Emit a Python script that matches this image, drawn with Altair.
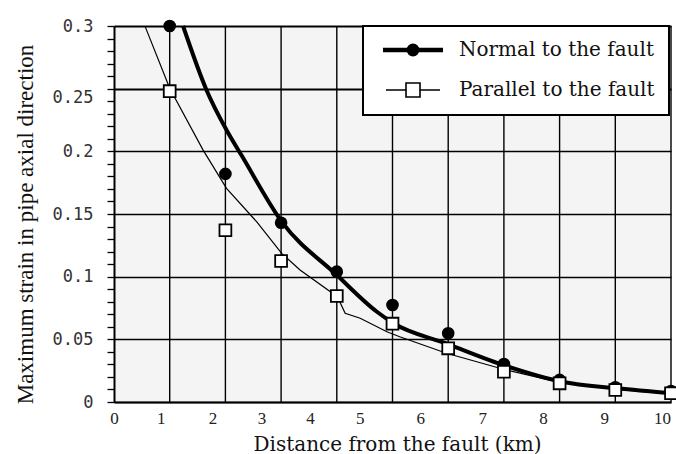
import json
import altair as alt
import pandas as pd

# ---- data -------------------------------------------------------------
series_names = ["Normal to the fault", "Parallel to the fault"]

# measured points (x given in grid positions along the distance axis)
pt_x = [1, 2, 3, 4, 5, 6, 7, 8, 9, 10]
normal_pts = [0.300, 0.182, 0.143, 0.104, 0.0774, 0.0548, 0.0303, 0.0176, 0.0117, 0.0088]
parallel_pts = [0.248, 0.137, 0.1125, 0.0846, 0.0625, 0.0428, 0.0242, 0.0149, 0.0096, 0.0070]

# fitted trend curves
normal_fit_x = [1.24, 1.66, 2.02, 2.30, 3.01, 4.00, 4.72, 5.01, 5.97, 7.04, 8.04, 9.04, 10.0]
normal_fit_y = [0.300, 0.249, 0.217, 0.196, 0.1439, 0.1013, 0.0720, 0.0630, 0.0466, 0.0287, 0.0162, 0.0109, 0.0069]
parallel_fit_x = [0.56, 1.00, 1.60, 2.02, 2.56, 3.01, 3.34, 4.01, 4.15, 4.42, 4.90, 5.13, 5.97, 7.04, 8.04, 9.03, 10.0]
parallel_fit_y = [0.2995, 0.2503, 0.2010, 0.1705, 0.1439, 0.1186, 0.1053, 0.0840, 0.0708, 0.0668, 0.0561, 0.0521, 0.0389, 0.0255, 0.0152, 0.0100, 0.0064]

# axis labelling
x_labels = ["0", "1", "2", "3", "4", "5", "6", "7", "8", "9", "10"]
x_label_pos = [0.0, 0.84, 1.77, 2.65, 3.52, 4.41, 5.50, 6.61, 7.70, 8.80, 9.84]
x_grid = [1, 2, 3, 4, 5, 6, 7, 8, 9, 10]
y_ticks = [0.0, 0.01, 0.02, 0.03, 0.04, 0.05, 0.06, 0.07, 0.08, 0.09, 0.1,
           0.11, 0.12, 0.13, 0.14, 0.15, 0.16, 0.17, 0.18, 0.19, 0.2,
           0.21, 0.22, 0.23, 0.24, 0.25, 0.26, 0.27, 0.28, 0.29, 0.3]

# ---- tables -----------------------------------------------------------
pts_df = pd.DataFrame({
    "x": pt_x + pt_x,
    "y": normal_pts + parallel_pts,
    "series": [series_names[0]] * len(pt_x) + [series_names[1]] * len(pt_x),
})
normal_pts_df = pts_df[pts_df.series == series_names[0]]
parallel_pts_df = pts_df[pts_df.series == series_names[1]]
normal_fit_df = pd.DataFrame({"x": normal_fit_x, "y": normal_fit_y})
parallel_fit_df = pd.DataFrame({"x": parallel_fit_x, "y": parallel_fit_y})
grid_df = pd.DataFrame({"x": x_grid})

# ---- scales & axes ----------------------------------------------------
x_scale = alt.Scale(domain=[0, 10], nice=False, zero=False)
y_scale = alt.Scale(domain=[0, 0.3], nice=False)

major = "abs(datum.value * 20 - round(datum.value * 20)) < 0.001"

x_axis = alt.Axis(
    values=x_label_pos,
    labelExpr=f"{json.dumps(x_labels)}[indexof({json.dumps(x_label_pos)}, datum.value)]",
    ticks=False, tickSize=0, grid=False,
    domainColor="black", domainWidth=2,
    labelFont="Liberation Serif", labelFontSize=17, labelColor="#222",
    labelPadding=8, labelFlush=False, labelOverlap=False,
    title="Distance from the fault (km)",
    titleFont="DejaVu Serif", titleFontSize=20, titleFontWeight="normal",
    titleColor="#111", titleX=283, titleY=48, titleBaseline="alphabetic",
)
y_axis = alt.Axis(
    values=y_ticks, format=".2~f",
    labelExpr=f"{major} ? datum.label : ''",
    tickSize=7, tickColor="black", tickWidth=1.3,
    domainColor="black", domainWidth=2,
    grid=True, gridColor="black",
    gridOpacity={"condition": {"test": major, "value": 1}, "value": 0},
    gridWidth={"condition": {"test": "datum.value > 0.245", "value": 2.2}, "value": 1.3},
    labelOffset={"condition": {"test": "abs(datum.value - 0.25) < 0.001", "value": 9}, "value": 0},
    labelFont="DejaVu Sans Mono", labelFontSize=17, labelColor="#333",
    labelPadding=14, labelFlush=False, labelOverlap=False,
    title="Maximum strain in pipe axial direction",
    titleFont="Liberation Serif", titleFontSize=23, titleFontWeight="normal",
    titleColor="#111", titleX=-82, titleY=198, titleBaseline="alphabetic",
    titleAngle=270,
)

X = alt.X("x:Q", scale=x_scale, axis=x_axis)
Y = alt.Y("y:Q", scale=y_scale, axis=y_axis)

# ---- layers -----------------------------------------------------------
vgrid = alt.Chart(grid_df).mark_rule(color="black", strokeWidth=1.4).encode(x=X)

normal_fit = alt.Chart(normal_fit_df).mark_line(
    color="black", strokeWidth=4, interpolate="monotone"
).encode(x=X, y=Y)

parallel_fit = alt.Chart(parallel_fit_df).mark_line(
    color="black", strokeWidth=1.2
).encode(x=X, y=Y)

normal_points = alt.Chart(normal_pts_df).mark_point(
    shape="circle", filled=True, color="black", size=160, opacity=1
).encode(x=X, y=Y)

parallel_points = alt.Chart(parallel_pts_df).mark_point(
    shape="square", fill="white", stroke="black", strokeWidth=1.8, size=140, opacity=1
).encode(x=X, y=Y)

# legend symbols: line with a marker on it
normal_symbol = "M-6,0L6,0M0.85,0A0.85,0.85,0,1,1,-0.85,0A0.85,0.85,0,1,1,0.85,0Z"
parallel_symbol = "M-5.4,0L-1.4,0M1.4,0L5.4,0M-1.4,-1.4L1.4,-1.4L1.4,1.4L-1.4,1.4Z"

legend = alt.Legend(
    title=None, orient="none", legendX=249, legendY=0, direction="vertical",
    fillColor="white", strokeColor="black", padding=14,
    symbolSize=100, symbolOffset=26, labelOffset=36, rowPadding=15,
    symbolStrokeColor="black",
    labelFont="DejaVu Serif", labelFontSize=20, labelColor="#111", labelLimit=400,
)

key = alt.Chart(pts_df).transform_filter("false").mark_point(opacity=1).encode(
    x=X, y=Y,
    shape=alt.Shape("series:N", scale=alt.Scale(domain=series_names, range=[normal_symbol, parallel_symbol]), legend=legend),
    fill=alt.Fill("series:N", scale=alt.Scale(domain=series_names, range=["black", "white"]), legend=legend),
    stroke=alt.Stroke("series:N", scale=alt.Scale(domain=series_names, range=["black", "black"]), legend=legend),
    strokeWidth=alt.StrokeWidth("series:N", scale=alt.Scale(domain=series_names, range=[4.5, 1.6]), legend=legend),
)

chart = alt.layer(
    vgrid, normal_fit, parallel_fit, normal_points, parallel_points, key
).properties(
    width=557, height=376,
    padding={"left": 114, "top": 26, "right": 5, "bottom": 52},
    autosize=alt.AutoSizeParams(type="none"),
    background="white",
).configure_view(
    fill="#f4f4f4", stroke="transparent"
).configure_legend(
    strokeWidth=2
)

chart.save("out.html", embed_options={"renderer": "svg", "actions": False})
